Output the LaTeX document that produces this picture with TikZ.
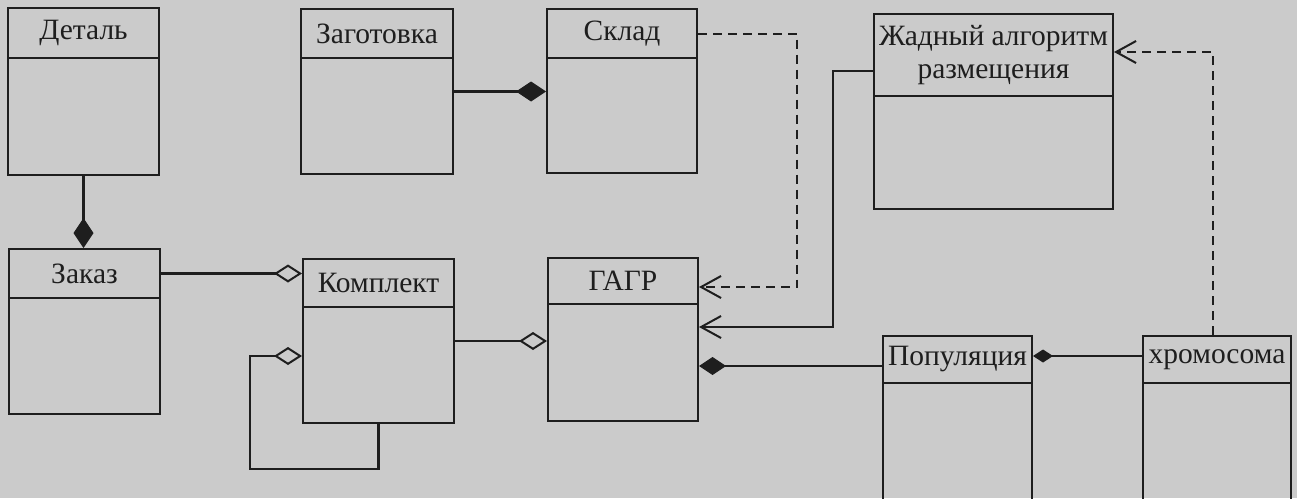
\documentclass[tikz,border=0pt]{standalone}
\usepackage{fontspec}
\setmainfont{Liberation Serif}
\usetikzlibrary{arrows.meta}
\definecolor{bg}{HTML}{CBCBCB}
\definecolor{ink}{HTML}{1E1E1E}
\tikzset{
  clsbox/.style={draw=ink, line width=2pt, inner sep=0pt},
  clshead/.style={draw=ink, line width=2pt, inner sep=0pt, align=center, text=ink,
     font=\fontsize{29.5}{33}\selectfont},
  conn/.style={draw=ink, line width=2.2pt},
  dep/.style={draw=ink, line width=2pt, dash pattern=on 9pt off 6pt},
  fdia/.style={arrows={-{Diamond[length=30pt,width=20pt,fill=ink,line width=1pt]}}},
  fdias/.style={arrows={{Diamond[length=27pt,width=18pt,fill=ink,line width=1pt]}-}},
  fdiat/.style={arrows={{Diamond[length=20pt,width=13pt,fill=ink,line width=1pt]}-}},
  hdia/.style={arrows={-{Diamond[length=28pt,width=18pt,open,line width=2pt]}}},
  barb/.style={arrows={-{Straight Barb[length=20pt,width=22pt,line width=2pt]}}},
}
\newcommand\umlbox[7]{%
  \node[clsbox, minimum width=#4pt, minimum height=#5pt, anchor=north west] (#1) at (#2,#3) {};
  \node[clshead, minimum width=#4pt, minimum height=#6pt, anchor=north west] (#1h) at (#2,#3) {#7};
}
\begin{document}
\begin{tikzpicture}[x=1pt,y=-1pt]
\useasboundingbox (0,0) rectangle (1297,498);
\fill[bg] (0,0) rectangle (1297,498);
\clip (0,0) rectangle (1297,498);

\umlbox{det}{7}{7}{151}{167}{50}{Деталь}
\umlbox{zag}{300}{8}{152}{165}{49}{Заготовка}
\umlbox{skl}{546}{8}{150}{164}{49}{Склад}
\umlbox{zhad}{873}{13}{239}{195}{82}{Жадный алгоритм\\размещения}
\umlbox{zak}{8}{248}{151}{165}{49}{Заказ}
\umlbox{kom}{302}{258}{151}{164}{48}{Комплект}
\umlbox{gagr}{547}{257}{150}{163}{46}{ГАГР}
\umlbox{pop}{882}{335}{149}{200}{47}{Популяция}
\umlbox{chr}{1142}{335}{148}{200}{47}{хромосома}

% compositions / aggregations
\draw[conn, fdia] (det.south) -- (det.south |- zak.north);
\draw[conn, fdia] (zag.east) -- (zag.east -| skl.west);
\draw[conn, hdia] (zakh.east) -- (zakh.east -| kom.west);

\coordinate (l2) at (250,469);
\coordinate (l3) at (250,356);
\draw[conn, hdia] (kom.south) -- (kom.south |- l2) -- (l2) -- (l3) -- (l3 -| kom.west);

\draw[conn, hdia] (kom.east) -- (kom.east -| gagr.west);

% dependencies
\coordinate (d1) at (797,287);
\draw[dep, barb] (sklh.east) -| (d1) -- (d1 -| gagr.east);

\coordinate (s1) at (833,71);
\coordinate (s2) at (833,327);
\draw[conn, barb] (s1 -| zhad.west) -- (s1) -- (s2) -- (s2 -| gagr.east);

\coordinate (p1) at (800,366);
\draw[conn, fdias] (p1 -| gagr.east) -- (p1 -| pop.west);

\coordinate (p2) at (1100,356);
\draw[conn, line width=1.8pt, fdiat] (p2 -| pop.east) -- (p2 -| chr.west);

\coordinate (c1) at (1213,52);
\draw[dep, barb] (c1 |- chr.north) -- (c1) -- (c1 -| zhad.east);
\end{tikzpicture}
\end{document}
